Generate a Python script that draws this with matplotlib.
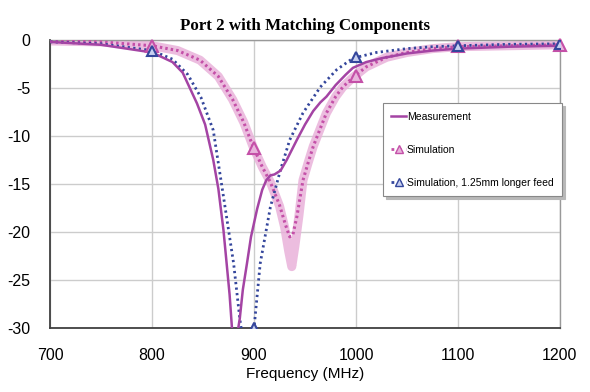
import matplotlib.pyplot as plt
from matplotlib.lines import Line2D

plt.rcParams['axes.unicode_minus'] = False

# Measurement (solid)
meas_f = [700, 750, 800, 820, 830, 844, 852, 860, 865, 870, 876, 879, 881, 883, 886, 889, 893, 897,
          903, 908, 912, 916, 920, 926, 932, 942, 950, 958, 965, 971, 980, 990, 997, 1010, 1025,
          1050, 1075, 1100, 1150, 1200]
meas_db = [-0.2, -0.5, -1.3, -2.3, -3.4, -6.6, -8.8, -12.5, -15.5, -19.8, -26.5, -31, -33, -31, -29,
           -26, -23.3, -20.5, -17.6, -15.6, -14.6, -14.1, -14.0, -13.6, -12.5, -10.4, -8.8, -7.4,
           -6.5, -5.9, -4.7, -3.6, -2.9, -2.3, -1.9, -1.4, -1.1, -0.9, -0.7, -0.6]

# Simulation (dotted, with markers)
sim_f = [700, 750, 800, 825, 847, 865, 879, 890, 899, 908, 916, 925, 931, 935, 938, 942, 948, 953,
         958, 965, 971, 980, 987, 997, 1010, 1030, 1050, 1075, 1100, 1150, 1200]
sim_db = [-0.1, -0.2, -0.6, -1.1, -2.1, -3.8, -6.2, -8.6, -11.1, -13.2, -14.8, -17.2, -19.3, -20.5,
          -20.3, -18.4, -14.6, -12.8, -11.1, -9.2, -7.6, -5.9, -4.9, -3.9, -2.8, -1.8, -1.3, -0.9,
          -0.7, -0.6, -0.5]
sim_mark_f = [800, 900, 1000, 1100, 1200]
sim_mark_db = [-0.6, -11.2, -3.8, -0.6, -0.5]

# Simulation glow (thick pink band)
glow_f = [700, 750, 800, 825, 847, 865, 879, 890, 899, 908, 916, 925, 930, 934, 937, 940, 944, 948,
          953, 958, 965, 971, 980, 987, 997, 1010, 1030, 1050, 1075, 1100, 1150, 1200]
glow_db = [-0.1, -0.2, -0.6, -1.1, -2.1, -3.8, -6.2, -8.6, -11.1, -13.2, -14.8, -17.3, -19.5, -22,
           -23.6, -21.5, -18.3, -14.6, -12.8, -11.1, -9.2, -7.6, -5.9, -4.9, -3.9, -2.8, -1.8, -1.3,
           -0.9, -0.7, -0.6, -0.5]

# Simulation, 1.25mm longer feed (blue dotted)
feed_f = [700, 750, 800, 820, 835, 848, 860, 870, 880, 886, 890, 893, 896, 900, 906, 916, 926, 935,
          948, 965, 981, 997, 1020, 1050, 1075, 1100, 1150, 1200]
feed_db = [-0.2, -0.4, -1.1, -2.0, -3.6, -6.0, -9.4, -16.3, -23.3, -29, -32, -34, -32, -30, -23.3,
           -17.4, -13.5, -10.4, -7.6, -4.9, -3.1, -1.9, -1.3, -0.9, -0.7, -0.6, -0.45, -0.4]
feed_mark_f = [800, 900, 1000, 1100, 1200]
feed_mark_db = [-1.1, -30, -1.8, -0.6, -0.4]

MEAS_C = '#A444A4'
SIM_C = '#C450A8'
GLOW_C = '#E9B2DA'
FEED_C = '#34469C'

fig = plt.figure(figsize=(5.9, 3.92), dpi=100)
ax = fig.add_axes([0.085, 0.163, 0.864, 0.735])

ax.plot(glow_f, glow_db, color=GLOW_C, lw=6.5, alpha=0.85, solid_joinstyle='round',
        solid_capstyle='round', zorder=2)
ax.plot(meas_f, meas_db, color=MEAS_C, lw=1.8, zorder=4)
ax.plot(sim_f, sim_db, color=SIM_C, lw=2.2, ls=(0, (0.8, 1.0)), zorder=3)
ax.plot(sim_mark_f, sim_mark_db, ls='none', marker='^', ms=8, mfc='#E8B4DC', mec=SIM_C,
        mew=1.5, zorder=5, clip_on=False)
ax.plot(feed_f, feed_db, color=FEED_C, lw=2.0, ls=(0, (0.8, 1.2)), zorder=3)
ax.plot(feed_mark_f, feed_mark_db, ls='none', marker='^', ms=7, mfc='#C8D0F0', mec=FEED_C,
        mew=1.5, zorder=5)

ax.set_xlim(700, 1200)
ax.set_ylim(-30, 0)
ax.set_xticks([700, 800, 900, 1000, 1100, 1200])
ax.set_yticks([0, -5, -10, -15, -20, -25, -30])
ax.grid(True, color='#CCCCCC', lw=1.0)
ax.set_axisbelow(True)
ax.tick_params(length=0, labelsize=11.5)
ax.tick_params(axis='x', pad=14)
ax.tick_params(axis='y', pad=14)
for lab in ax.get_xticklabels() + ax.get_yticklabels():
    lab.set_fontfamily('Liberation Sans')
for s in ['left', 'bottom']:
    ax.spines[s].set_color('#404040')
    ax.spines[s].set_linewidth(1.3)
for s in ['top', 'right']:
    ax.spines[s].set_color('#999999')
    ax.spines[s].set_linewidth(1.0)

ax.set_title('Port 2 with Matching Components', fontfamily='Liberation Serif',
             fontweight='bold', fontsize=12.2, pad=7)
ax.set_xlabel('Frequency (MHz)', fontfamily='Liberation Sans', fontsize=11, labelpad=3)

handles = [
    Line2D([], [], color=MEAS_C, lw=1.8),
    Line2D([], [], color=SIM_C, lw=2, ls=':', marker='^', ms=6, mfc='#E8B4DC', mec=SIM_C),
    Line2D([], [], color=FEED_C, lw=2, ls=':', marker='^', ms=6, mfc='#C8D0F0', mec=FEED_C),
]
labels = ['Measurement', 'Simulation', 'Simulation, 1.25mm longer feed']
leg = ax.legend(handles, labels, loc='upper left', bbox_to_anchor=(0.653, 0.78),
                prop={'family': 'Liberation Sans', 'size': 7.5}, frameon=True,
                fancybox=False, shadow={'color': '#B8B8B8', 'alpha': 1}, handlelength=1.4,
                handletextpad=0.1, labelspacing=2.2, borderpad=0.8, borderaxespad=0)
leg.get_frame().set_edgecolor('#888888')
leg.get_frame().set_linewidth(0.8)

fig.savefig('out.png', dpi=100)
